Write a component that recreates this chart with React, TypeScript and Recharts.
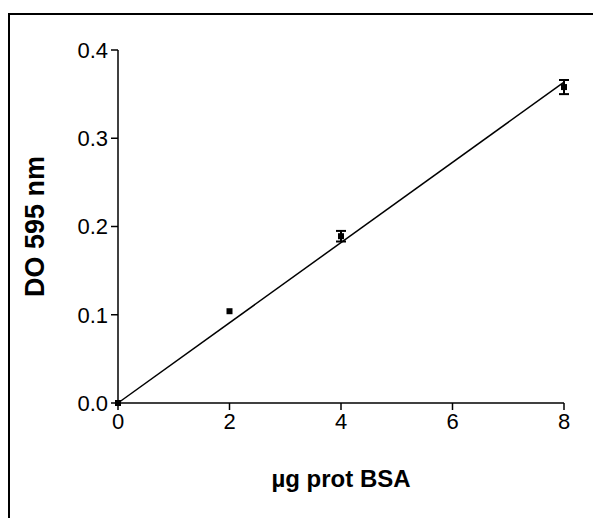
import { ComposedChart, Scatter, Line, XAxis, YAxis, ErrorBar, Label } from 'recharts';

const xValues = [0, 2, 4, 8];
const yValues = [0, 0.104, 0.189, 0.358];
const yErrors = [0, 0, 0.006, 0.008];
const fitX = [0, 8];
const fitY = [0, 0.3636];
const xTicks = [0, 2, 4, 6, 8];
const yTicks = [0, 0.1, 0.2, 0.3, 0.4];

const points = xValues.map((x, i) => ({ x, y: yValues[i], err: yErrors[i] }));
const fit = fitX.map((x, i) => ({ x, y: fitY[i] }));

const FONT = '"Liberation Sans", Arial, sans-serif';

const SquareDot = (props: { cx?: number; cy?: number }) => {
  const { cx = 0, cy = 0 } = props;
  return <rect x={cx - 3} y={cy - 3} width={6} height={6} fill="#000" />;
};

export default function App() {
  return (
    <div style={{ position: 'absolute', left: 0, top: 0, width: 593, height: 518, background: '#fff' }}>
      <div style={{
        position: 'absolute', left: 8, top: 13, width: 585, height: 505,
        borderLeft: '2px solid #000', borderTop: '2px solid #000',
      }} />
      <ComposedChart
        width={593}
        height={518}
        margin={{ top: 50, right: 29, bottom: 25, left: 58 }}
        style={{ position: 'absolute', left: 0, top: 0, fontFamily: FONT }}
      >
        <XAxis
          type="number"
          dataKey="x"
          domain={[0, 8]}
          ticks={xTicks}
          height={90}
          stroke="#000"
          strokeWidth={1.5}
          tickSize={7}
          tick={{ fill: '#000', fontSize: 22 }}
          tickMargin={3}
        >
          <Label
            value="µg prot BSA"
            position="insideBottom"
            offset={6}
            style={{ fill: '#000', fontSize: 24, fontWeight: 'bold' }}
          />
        </XAxis>
        <YAxis
          type="number"
          dataKey="y"
          domain={[0, 0.4]}
          ticks={yTicks}
          width={60}
          stroke="#000"
          strokeWidth={1.5}
          tickSize={7}
          tickMargin={3}
          tickFormatter={(v: number) => v.toFixed(1)}
          tick={{ fill: '#000', fontSize: 22 }}
        >
          <Label
            value="DO 595 nm"
            angle={-90}
            position="insideLeft"
            offset={-24}
            style={{ fill: '#000', fontSize: 27, fontWeight: 'bold', textAnchor: 'middle' }}
          />
        </YAxis>
        <Line
          data={fit}
          dataKey="y"
          stroke="#000"
          strokeWidth={1.5}
          dot={false}
          activeDot={false}
          isAnimationActive={false}
        />
        <Scatter data={points} dataKey="y" shape={<SquareDot />} isAnimationActive={false}>
          <ErrorBar dataKey="err" direction="y" width={5} stroke="#000" strokeWidth={2} />
        </Scatter>
      </ComposedChart>
    </div>
  );
}
